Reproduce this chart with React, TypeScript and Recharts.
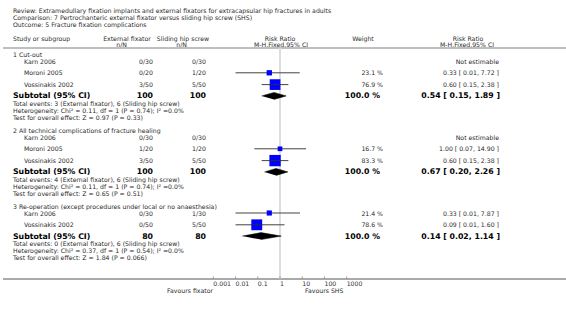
import { ComposedChart, Scatter, XAxis, YAxis, ErrorBar, ReferenceLine } from 'recharts';

// ---- data ----
const titleLines = [
  'Review:  Extramedullary fixation implants and external fixators for extracapsular hip fractures in adults',
  'Comparison:  7 Pertrochanteric external fixator versus sliding hip screw (SHS)',
  'Outcome:  5 Fracture fixation complications',
];
const groups = [
  '1 Cut-out',
  '2 All technical complications of fracture healing',
  '3 Re-operation (except procedures under local or no anaesthesia)',
];
const studyNames = [
  ['Karn 2006', 'Moroni 2005', 'Vossinakis 2002'],
  ['Karn 2006', 'Moroni 2005', 'Vossinakis 2002'],
  ['Karn 2006', 'Vossinakis 2002'],
];
const fixEvents = [[0, 0, 3], [0, 1, 3], [0, 0]];
const fixTotal = [[30, 20, 50], [30, 20, 50], [30, 50]];
const shsEvents = [[0, 1, 5], [0, 1, 5], [1, 5]];
const shsTotal = [[30, 20, 50], [30, 20, 50], [30, 50]];
const weights = [[null, 23.1, 76.9], [null, 16.7, 83.3], [21.4, 78.6]];
const rr = [[null, 0.33, 0.6], [null, 1.0, 0.6], [0.33, 0.09]];
const rrLow = [[null, 0.01, 0.15], [null, 0.07, 0.15], [0.01, 0.01]];
const rrHigh = [[null, 7.72, 2.38], [null, 14.9, 2.38], [7.87, 1.6]];
const subRR = [0.54, 0.67, 0.14];
const subLow = [0.15, 0.2, 0.02];
const subHigh = [1.89, 2.26, 1.14];
const subFixN = [100, 100, 80];
const subShsN = [100, 100, 80];
const totFix = [3, 4, 0];
const totShs = [6, 6, 6];
const hetero = [
  'Heterogeneity: Chi² = 0.11, df = 1 (P = 0.74); I² =0.0%',
  'Heterogeneity: Chi² = 0.11, df = 1 (P = 0.74); I² =0.0%',
  'Heterogeneity: Chi² = 0.37, df = 1 (P = 0.54); I² =0.0%',
];
const overall = ['Z = 0.97 (P = 0.33)', 'Z = 0.65 (P = 0.51)', 'Z = 1.84 (P = 0.066)'];
const axisTicks = [0.001, 0.01, 0.1, 1, 10, 100, 1000];

// ---- layout ----
const W = 566;
const H = 309;
const PLOT_L = 213.3;
const PLOT_R = 346.7;
const AXIS_Y = 279;
const SEP_Y = 48;
const FONT = 'DejaVu Sans';
const SMALL = 6.2;
const BOLD = 7.8;
const DIAMOND_H = 3.5;

const f2 = (v: number) => v.toFixed(2);
const ci = (e: number, l: number, h: number) => `${f2(e)} [ ${f2(l)}, ${f2(h)} ]`;

type Row = { kind: string; y: number; gi: number; si?: number; text?: string };
const rows: Row[] = [];
(() => {
  let y = 54;
  groups.forEach((g, gi) => {
    rows.push({ kind: 'group', y, gi, text: g });
    y += 7;
    studyNames[gi].forEach((_, si) => {
      rows.push({ kind: 'study', y, gi, si });
      y += 11.8;
    });
    rows.push({ kind: 'subtotal', y: y - 0.5, gi });
    y += 6.8;
    rows.push({ kind: 'info', y, gi, text: `Total events: ${totFix[gi]} (External fixator), ${totShs[gi]} (Sliding hip screw)` });
    y += 6.9;
    rows.push({ kind: 'info', y, gi, text: hetero[gi] });
    y += 6.9;
    rows.push({ kind: 'info', y, gi, text: `Test for overall effect: ${overall[gi]}` });
    y += 13;
  });
})();

const studyPoints = rows
  .filter((r) => r.kind === 'study' && rr[r.gi][r.si!] != null)
  .map((r) => {
    const e = rr[r.gi][r.si!] as number;
    return {
      x: e,
      y: r.y,
      w: weights[r.gi][r.si!] as number,
      err: [e - (rrLow[r.gi][r.si!] as number), (rrHigh[r.gi][r.si!] as number) - e],
    };
  });

const diamonds = rows
  .filter((r) => r.kind === 'subtotal')
  .map((r) => [
    { x: subLow[r.gi], y: r.y },
    { x: subRR[r.gi], y: r.y - DIAMOND_H },
    { x: subHigh[r.gi], y: r.y },
    { x: subRR[r.gi], y: r.y + DIAMOND_H },
  ]);

const Square = (p: any) => {
  const { cx, cy, payload } = p;
  const s = 3 + payload.w / 10;
  return (
    <g>
      <rect x={cx - s / 2} y={cy - s / 2} width={s} height={s} fill="#0000ff" />
      {s > 8 && (
        <g stroke="#333" strokeWidth={0.7}>
          <line x1={cx - s / 2} x2={cx + s / 2} y1={cy} y2={cy} />
          <line x1={cx} x2={cx} y1={cy - 1.5} y2={cy + 1.5} />
        </g>
      )}
    </g>
  );
};

const AxisTick = (p: any) => {
  const { x, payload } = p;
  return (
    <g>
      <line x1={x} x2={x} y1={AXIS_Y - 2.5} y2={AXIS_Y} stroke="#999" />
      <text x={x} y={AXIS_Y + 4.5} fontSize={SMALL} fontFamily={FONT} fill="#333" dominantBaseline="central">
        {String(payload.value)}
      </text>
    </g>
  );
};

const T = (props: any) => {
  const { bold, children, ...rest } = props;
  return (
    <text
      fontFamily={FONT}
      fontSize={bold ? BOLD : SMALL}
      fontWeight={bold ? 'bold' : 'normal'}
      fill={bold ? '#000' : '#2a2a2a'}
      dominantBaseline="central"
      {...rest}
    >
      {children}
    </text>
  );
};

function TableText() {
  return (
    <svg width={W} height={H} style={{ position: 'absolute', left: 0, top: 0 }}>
      {titleLines.map((t, i) => (
        <T key={t} x={13} y={10 + i * 7}>{t}</T>
      ))}
      <T x={13} y={38}>Study or subgroup</T>
      <T x={127} y={38} textAnchor="middle">External fixator</T>
      <T x={127} y={44} textAnchor="end">n/N</T>
      <T x={183} y={38} textAnchor="middle">Sliding hip screw</T>
      <T x={187} y={44} textAnchor="end">n/N</T>
      <T x={280} y={38} textAnchor="middle">Risk Ratio</T>
      <T x={281} y={44} textAnchor="middle">M-H,Fixed,95% CI</T>
      <T x={363} y={38} textAnchor="middle">Weight</T>
      <T x={468} y={38} textAnchor="middle">Risk Ratio</T>
      <T x={467} y={44} textAnchor="middle">M-H,Fixed,95% CI</T>
      <line x1={3} x2={W} y1={SEP_Y} y2={SEP_Y} stroke="#aaa" strokeWidth={1.5} />
      {rows.map((r, i) => {
        if (r.kind === 'group' || r.kind === 'info')
          return <T key={i} x={13} y={r.y}>{r.text}</T>;
        if (r.kind === 'study') {
          const gi = r.gi;
          const si = r.si!;
          const e = rr[gi][si];
          return (
            <g key={i}>
              <T x={24} y={r.y}>{studyNames[gi][si]}</T>
              <T x={153} y={r.y} textAnchor="end">{`${fixEvents[gi][si]}/${fixTotal[gi][si]}`}</T>
              <T x={206} y={r.y} textAnchor="end">{`${shsEvents[gi][si]}/${shsTotal[gi][si]}`}</T>
              {e != null && <T x={383} y={r.y} textAnchor="end">{`${weights[gi][si]!.toFixed(1)} %`}</T>}
              <T x={499} y={r.y} textAnchor="end">
                {e == null ? 'Not estimable' : ci(e, rrLow[gi][si] as number, rrHigh[gi][si] as number)}
              </T>
            </g>
          );
        }
        return (
          <g key={i}>
            <T bold x={13} y={r.y}>Subtotal (95% CI)</T>
            <T bold x={153} y={r.y} textAnchor="end">{subFixN[r.gi]}</T>
            <T bold x={206} y={r.y} textAnchor="end">{subShsN[r.gi]}</T>
            <T bold x={380} y={r.y} textAnchor="end">100.0 %</T>
            <T bold x={500} y={r.y} textAnchor="end">{ci(subRR[r.gi], subLow[r.gi], subHigh[r.gi])}</T>
          </g>
        );
      })}
      <line x1={3} x2={W} y1={AXIS_Y} y2={AXIS_Y} stroke="#555" strokeWidth={1} />
      <T x={213} y={290} textAnchor="end">Favours fixator</T>
      <T x={305} y={290}>Favours SHS</T>
    </svg>
  );
}

export default function App() {
  return (
    <div style={{ position: 'absolute', left: 0, top: 0, width: W, height: H, background: '#fff' }}>
      <TableText />
      <div style={{ position: 'absolute', left: 0, top: 0 }}>
        <ComposedChart
          width={W}
          height={H}
          margin={{ top: 0, right: W - PLOT_R, bottom: 0, left: PLOT_L }}
        >
          <XAxis
            type="number"
            dataKey="x"
            scale="log"
            domain={[0.001, 1000]}
            ticks={axisTicks}
            interval={0}
            allowDataOverflow
            axisLine={false}
            tickLine={false}
            tick={AxisTick}
            height={H - AXIS_Y}
          />
          <YAxis type="number" dataKey="y" domain={[0, AXIS_Y]} reversed hide allowDataOverflow />
          <ReferenceLine
            segment={[{ x: 1, y: SEP_Y }, { x: 1, y: AXIS_Y }]}
            stroke="#ddd"
            strokeWidth={2}
          />
          {diamonds.map((d, i) => (
            <Scatter
              key={i}
              data={d}
              isAnimationActive={false}
              fill="#000"
              shape={() => <g />}
              line={{ fill: '#000', stroke: '#000', strokeWidth: 0.5 }}
              lineType="joint"
            />
          ))}
          <Scatter data={studyPoints} isAnimationActive={false} fill="#0000ff" shape={Square}>
            <ErrorBar dataKey="err" direction="x" width={0} stroke="#444" strokeWidth={1} />
          </Scatter>
        </ComposedChart>
      </div>
    </div>
  );
}
